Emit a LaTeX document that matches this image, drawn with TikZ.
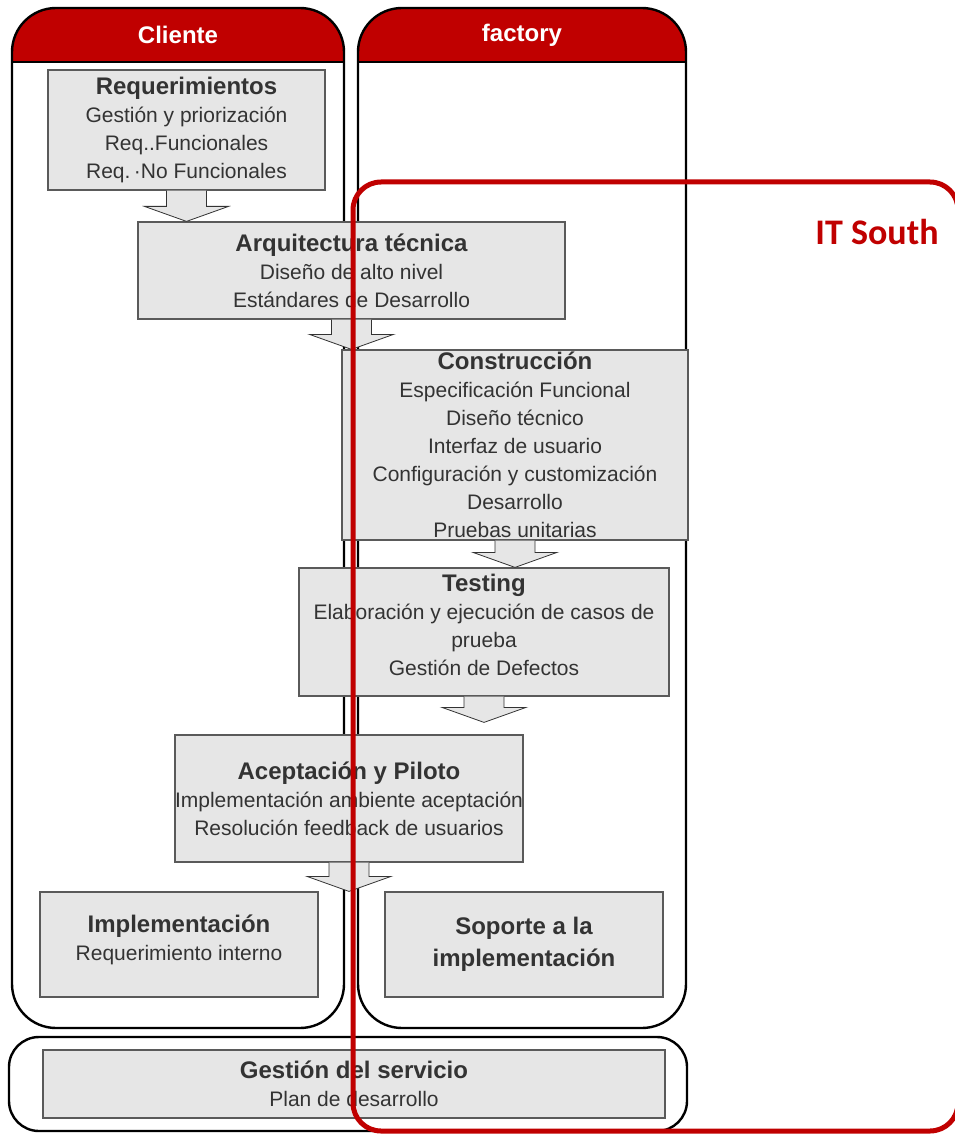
\documentclass[tikz,border=0pt]{standalone}
\usepackage{fontspec}
\setmainfont{Liberation Sans}
\newfontfamily\calibri{Carlito}
\usetikzlibrary{calc}

\definecolor{itred}{HTML}{C00000}
\definecolor{cajagris}{HTML}{E6E6E6}
\definecolor{bordegris}{HTML}{5A5A5A}
\definecolor{textogris}{HTML}{333333}

\newcommand{\titulo}[1]{{\bfseries\fontsize{12}{14}\selectfont #1}}
% flecha de bloque: [hueco] origen destino
\newcommand{\flecha}[3][0pt]{%
  \filldraw[flecha] let \p1=(#2.south), \p2=(#3.north) in
    (\x1-10pt,\y1) -- (\x1-10pt,\y2+#1+7.5pt) -- (\x1-21pt,\y2+#1+7.5pt)
    -- (\x1,\y2+#1) -- (\x1+21pt,\y2+#1+7.5pt) -- (\x1+10pt,\y2+#1+7.5pt)
    -- (\x1+10pt,\y1);
}

\begin{document}
\begin{tikzpicture}[x=0.5pt, y=-0.5pt,
    caja/.style={draw=bordegris, line width=0.6pt, fill=cajagris, inner sep=0pt,
      align=center, text=textogris, font=\fontsize{10.5}{14}\selectfont},
    flecha/.style={draw=black!80, line width=0.4pt, fill=cajagris},
    columna/.style={draw=black, line width=1.2pt, rounded corners=22pt}]
    \useasboundingbox (0,0) rectangle (954,1134);

    % Columnas Cliente y factory
    \foreach \xa/\xb/\nombre in {12/344/Cliente, 358/686/factory}{
        \begin{scope}
            \clip[rounded corners=22pt] (\xa,8) rectangle (\xb,1028);
            \fill[itred] (\xa,8) rectangle (\xb,62);
        \end{scope}
        \draw[line width=1.2pt] (\xa,62) -- (\xb,62);
        \draw[columna] (\xa,8) rectangle (\xb,1028);
        \node[text=white, font=\bfseries\fontsize{12}{14}\selectfont] (\nombre) at ({(\xa+\xb)/2},35) {\nombre};
    }

    % Gestion del servicio (fila inferior)
    \draw[line width=1.2pt, rounded corners=15pt] (9,1037) rectangle (687,1131);

    % Etapas
    \node[caja, minimum width=138.5pt, minimum height=60pt] (req) at (186.5,130)
        {\titulo{Requerimientos}\\Gestión y priorización\\Req..Funcionales\\Req.\,·No Funcionales};
    \node[caja, minimum width=213.5pt, minimum height=48.5pt] (arq) at (351.5,270.5)
        {\titulo{Arquitectura técnica}\\Diseño de alto nivel\\Estándares de Desarrollo};
    \node[caja, minimum width=173pt, minimum height=95pt] (con) at (515,445)
        {\titulo{Construcción}\\Especificación Funcional\\Diseño técnico\\Interfaz de usuario\\Configuración y customización\\Desarrollo\\Pruebas unitarias};
    \node[caja, minimum width=185pt, minimum height=64pt, text depth=7.5pt] (tst) at (484,632)
        {\titulo{Testing}\\Elaboración y ejecución de casos de\\prueba\\Gestión de Defectos};
    \node[caja, minimum width=172pt, minimum height=63.5pt] (acp) at (349,798.5)
        {\titulo{Aceptación y Piloto}\\Implementación ambiente aceptación\\Resolución feedback de usuarios};
    \node[caja, minimum width=139pt, minimum height=52.5pt, text depth=7pt] (imp) at (179,944.5)
        {\titulo{Implementación}\\Requerimiento interno};
    \node[caja, minimum width=139pt, minimum height=52.5pt] (sop) at (524,944.5)
        {\titulo{Soporte a la}\\[2pt]\titulo{implementación}};
    \node[caja, minimum width=311pt, minimum height=34pt] (ges) at (354,1084)
        {\titulo{Gestión del servicio}\\Plan de desarrollo};

    % Flechas entre etapas
    \flecha{req}{arq}
    \flecha{arq}{con}
    \flecha{con}{tst}
    \flecha[6pt]{tst}{acp}
    \flecha{acp}{sop}

    % Alcance IT South
    \draw[itred, line width=2.5pt, rounded corners=14pt] (353,182) rectangle (958,1131);
    \node[text=itred, font=\calibri\bfseries\fontsize{18}{20}\selectfont] (itsouth) at (877,232) {IT South};
\end{tikzpicture}
\end{document}
